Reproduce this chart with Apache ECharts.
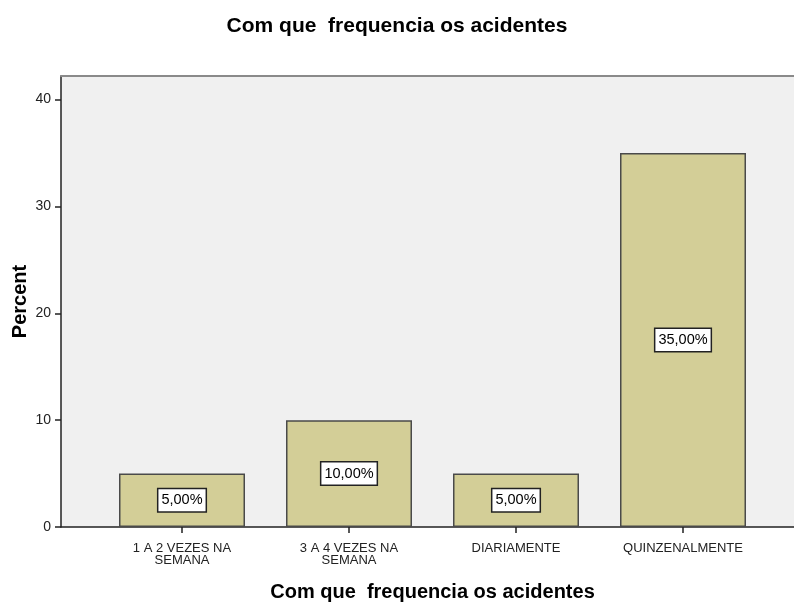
<!DOCTYPE html>
<html>
<head>
<meta charset="utf-8">
<script src="https://cdn.jsdelivr.net/npm/echarts@6/dist/echarts.min.js"></script>
<style>
  html, body { margin: 0; padding: 0; background: #fff; }
  #chart { width: 794px; height: 603px; }
</style>
</head>
<body>
<div id="chart"></div>
<script>
// categories and percent values
const categories = ['1 A 2 VEZES NA\nSEMANA', '3 A 4 VEZES NA\nSEMANA', 'DIARIAMENTE', 'QUINZENALMENTE'];
const percents = [5, 10, 5, 35];
const yTicks = [0, 10, 20, 30, 40];

const titleText = 'Com que  frequencia os acidentes';
const font = 'Arial, "Liberation Sans", sans-serif';

const myChart = echarts.init(document.getElementById('chart'), null, { renderer: 'canvas' });

const option = {
  animation: false,
  title: {
    text: titleText,
    left: 'center',
    top: 11,
    textStyle: { fontFamily: font, fontSize: 21, fontWeight: 'bold', color: '#000' }
  },
  grid: [
    // background plot area
    {
      left: 61, right: 0, top: 76, bottom: 76, show: true, backgroundColor: '#f0f0f0', borderWidth: 0,
      outerBoundsMode: 'none', containLabel: false
    },
    // data area (bars inset from the frame)
    { left: 98.5, right: 27.5, top: 76, bottom: 76, outerBoundsMode: 'none', containLabel: false }
  ],
  xAxis: [
    {
      gridIndex: 0, type: 'value', min: 0, max: 1, position: 'bottom',
      axisLine: { show: true, lineStyle: { color: '#222', width: 1.5 } },
      axisTick: { show: false }, axisLabel: { show: false }, splitLine: { show: false }
    },
    {
      gridIndex: 0, type: 'value', min: 0, max: 1, position: 'top',
      axisLine: { show: true, lineStyle: { color: '#8a8a8a', width: 2 } },
      axisTick: { show: false }, axisLabel: { show: false }, splitLine: { show: false }
    },
    {
      gridIndex: 1, type: 'category', data: categories,
      axisLine: { show: false },
      axisTick: { show: true, alignWithLabel: true, length: 6, lineStyle: { color: '#222', width: 1.5 } },
      axisLabel: { color: '#222', fontFamily: font, fontSize: 13, lineHeight: 12, margin: 15, interval: 0 },
      name: titleText,
      nameLocation: 'middle',
      nameGap: 55,
      nameMoveOverlap: false,
      nameTextStyle: { fontFamily: font, fontSize: 20, fontWeight: 'bold', color: '#000' }
    }
  ],
  yAxis: [
    {
      gridIndex: 0, type: 'value', min: 0, max: 42.2, interval: 10,
      axisLine: { show: true, lineStyle: { color: '#222', width: 1.5 } },
      axisTick: { show: true, length: 6, customValues: yTicks, lineStyle: { color: '#222', width: 1.5 } },
      axisLabel: { color: '#222', fontFamily: font, fontSize: 14, margin: 10, customValues: yTicks },
      splitLine: { show: false },
      name: 'Percent',
      nameLocation: 'middle',
      nameGap: 31,
      nameMoveOverlap: false,
      nameTextStyle: { fontFamily: font, fontSize: 20, fontWeight: 'bold', color: '#000' }
    },
    {
      gridIndex: 1, type: 'value', min: 0, max: 42.2, show: false
    }
  ],
  series: [
    {
      type: 'bar',
      xAxisIndex: 2,
      yAxisIndex: 1,
      data: percents,
      barWidth: 126,
      itemStyle: { color: '#d3ce97', borderColor: '#4a4a4a', borderWidth: 1.5 },
      label: {
        show: true,
        position: 'inside',
        formatter: (p) => p.value.toFixed(2).replace('.', ',') + '%',
        fontFamily: font,
        fontSize: 14.5,
        color: '#000',
        backgroundColor: '#fff',
        borderColor: '#222',
        borderWidth: 1.5,
        padding: [4, 3, 3, 3]
      }
    }
  ]
};

myChart.setOption(option);
</script>
</body>
</html>
